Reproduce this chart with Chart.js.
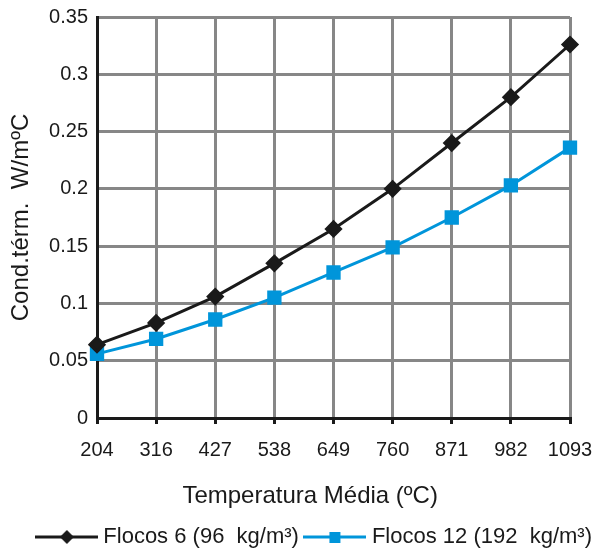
<!DOCTYPE html>
<html>
<head>
<meta charset="utf-8">
<script src="https://cdn.jsdelivr.net/npm/chart.js@4/dist/chart.umd.min.js"></script>
<style>
  html, body { margin: 0; padding: 0; background: #fff; }
  #wrap { width: 593px; height: 550px; }
</style>
</head>
<body>
<div id="wrap"><canvas id="chart" width="593" height="550"></canvas></div>
<script>
const temps = ["204", "316", "427", "538", "649", "760", "871", "982", "1093"];
const flocos6 = [0.064, 0.083, 0.106, 0.135, 0.165, 0.200, 0.240, 0.280, 0.326];
const flocos12 = [0.056, 0.069, 0.086, 0.105, 0.127, 0.149, 0.175, 0.203, 0.236];
const yTicks = [0, 0.05, 0.1, 0.15, 0.2, 0.25, 0.3, 0.35];

const black = "#1a1a1a";
const blue = "#0095da";
const font = "'Liberation Sans', Arial, sans-serif";

// legend icon: short line with the marker in the middle
function legendIcon(color, style) {
  const c = document.createElement("canvas");
  c.width = 63; c.height = 16;
  const g = c.getContext("2d");
  g.strokeStyle = color;
  g.lineWidth = 3;
  g.beginPath(); g.moveTo(0, 8); g.lineTo(63, 8); g.stroke();
  g.fillStyle = color;
  if (style === "diamond") {
    g.beginPath(); g.moveTo(32, 1); g.lineTo(39, 8); g.lineTo(32, 15); g.lineTo(25, 8); g.closePath(); g.fill();
  } else {
    g.fillRect(26, 3, 11, 11);
  }
  return c;
}

const ctx = document.getElementById("chart").getContext("2d");
new Chart(ctx, {
  type: "line",
  data: {
    labels: temps,
    datasets: [{
      label: "Flocos 6 (96  kg/m³)",
      data: flocos6,
      borderColor: black,
      backgroundColor: black,
      borderWidth: 3,
      pointStyle: "rectRot",
      pointRadius: 7,
      pointHoverRadius: 7,
      legendIcon: legendIcon(black, "diamond")
    }, {
      label: "Flocos 12 (192  kg/m³)",
      data: flocos12,
      borderColor: blue,
      backgroundColor: blue,
      borderWidth: 3,
      pointStyle: "rect",
      pointRadius: 8,
      pointHoverRadius: 8,
      legendIcon: legendIcon(blue, "square")
    }]
  },
  options: {
    responsive: false,
    animation: false,
    layout: { padding: { left: 0, right: -9, top: 17, bottom: -8 } },
    plugins: {
      tooltip: { enabled: false },
      legend: {
        position: "bottom",
        align: "end",
        labels: {
          usePointStyle: true,
          pointStyleWidth: 52,
          boxHeight: 16,
          padding: 10,
          color: black,
          font: { family: font, size: 22 },
          generateLabels(chart) {
            return chart.data.datasets.map((ds, i) => ({
              text: ds.label,
              pointStyle: ds.legendIcon,
              fillStyle: ds.borderColor,
              strokeStyle: ds.borderColor,
              lineWidth: 0,
              fontColor: black,
              datasetIndex: i,
              hidden: false
            }));
          }
        }
      }
    },
    scales: {
      x: {
        offset: false,
        border: { color: black, width: 3 },
        grid: { color: "#878787", lineWidth: 3, tickColor: black, tickLength: 6 },
        ticks: { color: black, font: { family: font, size: 20 }, padding: 14, maxRotation: 0, autoSkip: false },
        // trailing spaces move the title a little left of the plot centre, as in the original
        title: { display: true, text: "Temperatura Média (ºC)\u00a0\u00a0\u00a0\u00a0\u00a0\u00a0\u00a0", color: black, font: { family: font, size: 24 }, padding: { top: 10, bottom: 5 } },
        afterFit(scale) { scale.height = 98; scale.paddingRight = 23; }
      },
      y: {
        min: 0,
        max: 0.35,
        afterBuildTicks(scale) { scale.ticks = yTicks.map(v => ({ value: v })); },
        border: { color: black, width: 3 },
        grid: { color: "#878787", lineWidth: 3, drawTicks: false },
        ticks: {
          color: black,
          font: { family: font, size: 20 },
          padding: 9,
          callback: v => String(Number(v.toFixed(2)))
        },
        title: { display: true, text: "Cond.térm.  W/mºC", color: black, font: { family: font, size: 24 }, padding: { top: 7, bottom: 4 } },
        afterFit(scale) { scale.width = 97; scale.paddingTop = 3; }
      }
    }
  }
});
</script>
</body>
</html>
